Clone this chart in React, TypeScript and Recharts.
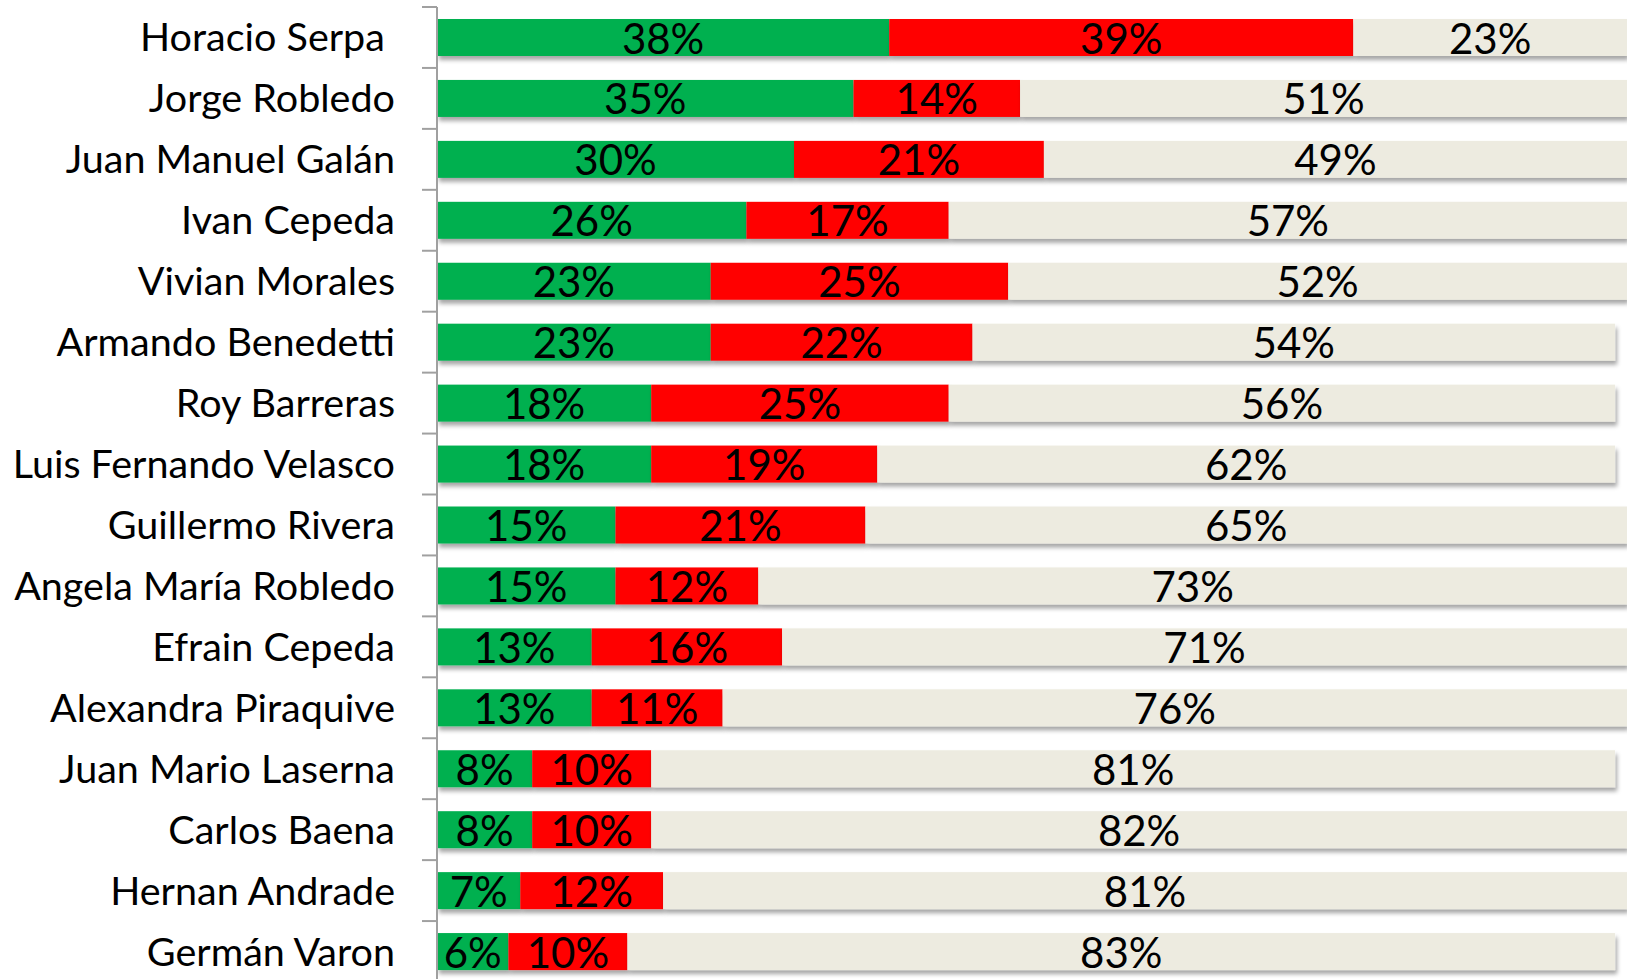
import React from 'react';
import { BarChart, Bar, XAxis, YAxis, LabelList } from 'recharts';

const names = [
  'Horacio Serpa ',
  'Jorge Robledo',
  'Juan Manuel Galán',
  'Ivan Cepeda',
  'Vivian Morales',
  'Armando Benedetti',
  'Roy Barreras',
  'Luis Fernando Velasco',
  'Guillermo Rivera',
  'Angela María Robledo',
  'Efrain Cepeda',
  'Alexandra Piraquive',
  'Juan Mario Laserna',
  'Carlos Baena',
  'Hernan Andrade',
  'Germán Varon',
];
const favorable = [38, 35, 30, 26, 23, 23, 18, 18, 15, 15, 13, 13, 8, 8, 7, 6];
const unfavorable = [39, 14, 21, 17, 25, 22, 25, 19, 21, 12, 16, 11, 10, 10, 12, 10];
const unknown = [23, 51, 49, 57, 52, 54, 56, 62, 65, 73, 71, 76, 81, 82, 81, 83];

const data = names.map((name, i) => ({
  name,
  favorable: favorable[i],
  unfavorable: unfavorable[i],
  unknown: unknown[i],
}));

const W = 1629;
const H = 982;
const TOP = 7;
const AXIS_X = 437;
const BAND = (H - TOP) / names.length;
const FONT = 'Lato, "Open Sans", sans-serif';

function NameTick(props: any) {
  const { y, payload } = props;
  return (
    <g>
      <line x1={AXIS_X - 15} x2={AXIS_X} y1={y - BAND / 2} y2={y - BAND / 2} stroke="#A0A0A0" strokeWidth={2} />
      <text
        x={AXIS_X - 42}
        y={y + 14}
        textAnchor="end"
        fontFamily={FONT}
        fontSize={39.5}
        fill="#000"
        style={{ whiteSpace: 'pre' }}
      >
        {payload.value}
      </text>
    </g>
  );
}

function ValueLabel(props: any) {
  const { x, y, width, height, value } = props;
  return (
    <text
      x={x + width / 2}
      y={y + height / 2 + 16}
      textAnchor="middle"
      fontFamily={FONT}
      fontSize={42}
      fill="#000"
    >
      {`${value}%`}
    </text>
  );
}

function ShadowRect(props: any) {
  const { x, y, width, height, fill } = props;
  return <rect x={x} y={y} width={width} height={height} fill={fill} filter="url(#barShadow)" />;
}

export default function App() {
  return (
    <div style={{ position: 'absolute', left: 0, top: 0, width: W, height: 979, overflow: 'hidden', background: '#fff' }}>
      <BarChart
        width={W}
        height={H}
        data={data}
        layout="vertical"
        margin={{ top: TOP, right: 2, bottom: 0, left: 0 }}
        barSize={37}
      >
        <defs>
          <filter id="barShadow" x="-5%" y="-30%" width="115%" height="170%">
            <feDropShadow dx={2} dy={4} stdDeviation={2.2} floodColor="#000" floodOpacity={0.35} />
          </filter>
        </defs>
        <XAxis type="number" domain={[0, 100]} hide allowDataOverflow />
        <YAxis
          type="category"
          dataKey="name"
          width={AXIS_X}
          tick={<NameTick />}
          tickLine={false}
          axisLine={{ stroke: '#A0A0A0', strokeWidth: 2 }}
          interval={0}
        />
        <Bar dataKey="favorable" stackId="a" fill="#00B050" shape={<ShadowRect />} isAnimationActive={false}>
          <LabelList dataKey="favorable" content={<ValueLabel />} />
        </Bar>
        <Bar dataKey="unfavorable" stackId="a" fill="#FF0000" shape={<ShadowRect />} isAnimationActive={false}>
          <LabelList dataKey="unfavorable" content={<ValueLabel />} />
        </Bar>
        <Bar dataKey="unknown" stackId="a" fill="#EDEBE0" shape={<ShadowRect />} isAnimationActive={false}>
          <LabelList dataKey="unknown" content={<ValueLabel />} />
        </Bar>
      </BarChart>
    </div>
  );
}
